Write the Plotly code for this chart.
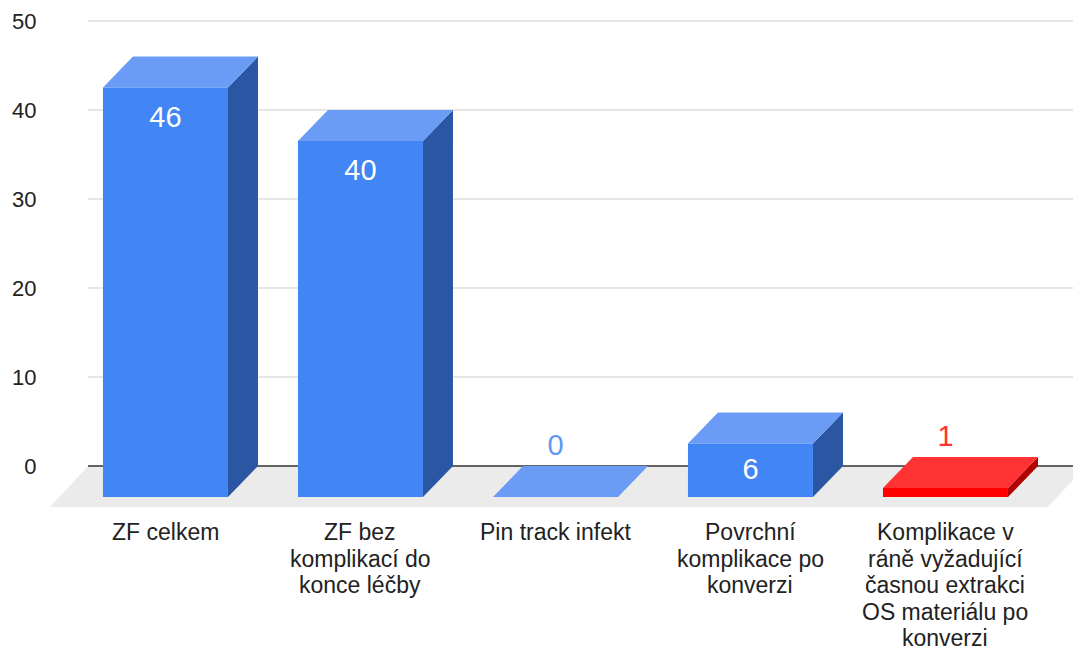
import plotly.graph_objects as go

# ---------------- data ----------------
categories = [
    "ZF celkem",
    "ZF bez<br>komplikací do<br>konce léčby",
    "Pin track infekt",
    "Povrchní<br>komplikace po<br>konverzi",
    "Komplikace v<br>ráně vyžadující<br>časnou extrakci<br>OS materiálu po<br>konverzi",
]
values = [46, 40, 0, 6, 1]
front_colors = ["#4285F4", "#4285F4", "#4285F4", "#4285F4", "#FF0000"]
top_colors = ["#6A9BF5", "#6A9BF5", "#6A9BF5", "#6A9BF5", "#FF3333"]
side_colors = ["#2A56A3", "#2A56A3", "#2A56A3", "#2A56A3", "#B00000"]
outside_label_colors = ["#5E97F6", "#5E97F6", "#5E97F6", "#5E97F6", "#FF3333"]
y_ticks = [0, 10, 20, 30, 40, 50]

# ---------------- geometry (style) ----------------
PAGE_OFFSET = 8  # default body margin of the html page
W, H = 1081 - PAGE_OFFSET, 650 - PAGE_OFFSET
M_L, M_R, M_T, M_B = 50 - PAGE_OFFSET, 0, 12 - PAGE_OFFSET, 143
PLOT_W = W - M_L - M_R
PLOT_H = H - M_T - M_B
PX_PER_CAT = 195.0
PX_PER_UNIT = 8.9
X0 = -0.746
Y1 = 51.01
x_range = [X0, X0 + PLOT_W / PX_PER_CAT]
y_range = [Y1 - PLOT_H / PX_PER_UNIT, Y1]

BAR_W = 125 / PX_PER_CAT
DX = 30 / PX_PER_CAT
DY = 31 / PX_PER_UNIT
FLOOR_DX = 38 / PX_PER_CAT
FLOOR_BACK_LEFT = -0.551
FLOOR_FRONT_RIGHT = 4.372
FONT = "Arial, Liberation Sans, sans-serif"
LABEL_SIZE = 23
LINE_GAP = 26.5
FIRST_LINE_SHIFT = 25

fig = go.Figure()


def poly(xs, ys, color):
    fig.add_trace(go.Scatter(
        x=xs + [xs[0]], y=ys + [ys[0]], mode="lines", fill="toself",
        fillcolor=color, line=dict(width=0, color=color),
        hoverinfo="skip", showlegend=False))


# floor
poly([FLOOR_BACK_LEFT, x_range[1] + 1, FLOOR_FRONT_RIGHT + 1, FLOOR_BACK_LEFT - FLOOR_DX],
     [0, 0, y_range[0], y_range[0]], "#EBEBEB")
poly([FLOOR_FRONT_RIGHT, FLOOR_FRONT_RIGHT + FLOOR_DX, x_range[1] + 2, x_range[1] + 2],
     [y_range[0], 0, 0, y_range[0]], "#FFFFFF")

# gridlines on the back wall
for t in y_ticks:
    fig.add_trace(go.Scatter(
        x=[FLOOR_BACK_LEFT, x_range[1] + 1], y=[t, t], mode="lines",
        line=dict(color="#333333" if t == 0 else "#CCCCCC", width=1.5 if t == 0 else 1),
        hoverinfo="skip", showlegend=False))

# bars
label_x, label_y, label_text, label_col = [], [], [], []
for i, v in enumerate(values):
    fl = i - DX - BAR_W / 2
    fr = i - DX + BAR_W / 2
    bl = i - BAR_W / 2
    br = i + BAR_W / 2
    poly([fr, br, br, fr], [v - DY, v, 0, -DY], side_colors[i])
    poly([fl, fr, br, bl], [v - DY, v - DY, v, v], top_colors[i])
    if v > 0:
        poly([fl, fr, fr, fl], [-DY, -DY, v - DY, v - DY], front_colors[i])
    h_px = v * PX_PER_UNIT
    label_x.append(i - DX)
    label_text.append(str(v))
    if h_px >= 40:
        off = min(32, h_px / 2 + 1)
        label_y.append(v - DY - off / PX_PER_UNIT)
        label_col.append("#FFFFFF")
    else:
        label_y.append(v + 18 / PX_PER_UNIT)
        label_col.append(outside_label_colors[i])

fig.add_trace(go.Scatter(
    x=label_x, y=label_y, text=label_text, mode="text",
    textposition="middle center",
    textfont=dict(size=29, color=label_col, family=FONT),
    hoverinfo="skip", showlegend=False))

# category labels, one annotation per line for exact line spacing
annotations = []
for i, cat in enumerate(categories):
    for j, line in enumerate(cat.split("<br>")):
        annotations.append(dict(
            x=i - DX, xref="x", y=0, yref="paper",
            text=line, showarrow=False, xanchor="center", yanchor="middle",
            yshift=-(FIRST_LINE_SHIFT + LINE_GAP * j), borderpad=0,
            font=dict(size=LABEL_SIZE, color="#222222", family=FONT)))

fig.update_layout(
    width=W, height=H,
    margin=dict(l=M_L, r=M_R, t=M_T, b=M_B),
    paper_bgcolor="white", plot_bgcolor="white",
    showlegend=False,
    font=dict(family=FONT, size=22, color="#222222"),
    annotations=annotations,
    xaxis=dict(
        range=x_range, showgrid=False, zeroline=False, showline=False,
        showticklabels=False, ticks="", automargin=False,
    ),
    yaxis=dict(
        range=y_range, showgrid=False, zeroline=False, showline=False,
        tickmode="array", tickvals=y_ticks, ticks="outside", ticklen=8,
        tickcolor="rgba(0,0,0,0)", automargin=False,
        tickfont=dict(size=22, color="#222222", family=FONT),
    ),
)

fig.write_html("out.html")
